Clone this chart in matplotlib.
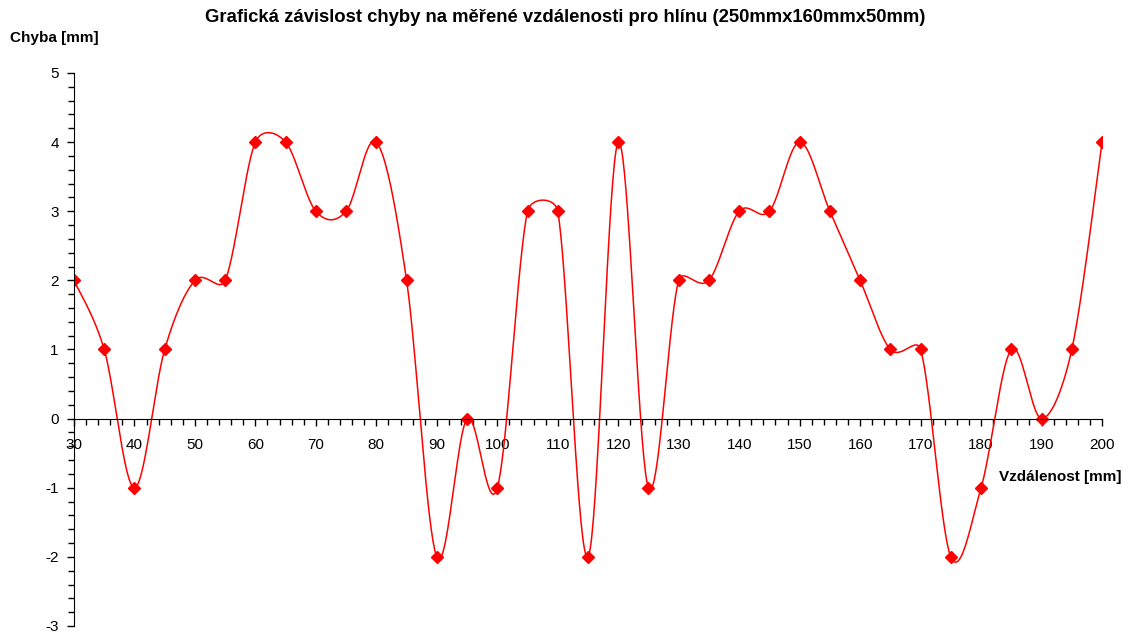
import numpy as np
import matplotlib.pyplot as plt
from matplotlib.ticker import MultipleLocator

plt.rcParams['font.family'] = ['Liberation Sans', 'DejaVu Sans']
plt.rcParams['axes.unicode_minus'] = False

# measured data
vzdalenost = [30, 35, 40, 45, 50, 55, 60, 65, 70, 75, 80, 85, 90, 95, 100, 105, 110, 115,
              120, 125, 130, 135, 140, 145, 150, 155, 160, 165, 170, 175, 180, 185, 190, 195, 200]
chyba = [2, 1, -1, 1, 2, 2, 4, 4, 3, 3, 4, 2, -2, 0, -1, 3, 3, -2,
         4, -1, 2, 2, 3, 3, 4, 3, 2, 1, 1, -2, -1, 1, 0, 1, 4]


def smooth(x, y, sx, sy, n=40):
    # Excel-like smoothed line (Bezier, tangent limited in screen space)
    p = np.column_stack([np.asarray(x, float) * sx, np.asarray(y, float) * sy])
    p = np.vstack([p[:1], p, p[-1:]])
    t = np.linspace(0, 1, n)[:, None]
    out = []
    for i in range(1, len(p) - 2):
        p0, p1, p2, p3 = p[i - 1], p[i], p[i + 1], p[i + 2]
        d12 = np.hypot(*(p2 - p1))
        d02 = np.hypot(*(p2 - p0))
        d13 = np.hypot(*(p3 - p1))
        f1 = min(1 / 6, d12 / (2 * d02)) if d02 > 0 else 0
        f2 = min(1 / 6, d12 / (2 * d13)) if d13 > 0 else 0
        c1 = p1 + f1 * (p2 - p0)
        c2 = p2 - f2 * (p3 - p1)
        b = (1 - t) ** 3 * p1 + 3 * (1 - t) ** 2 * t * c1 + 3 * (1 - t) * t ** 2 * c2 + t ** 3 * p2
        out.append(b)
    b = np.vstack(out)
    return b[:, 0] / sx, b[:, 1] / sy


fig = plt.figure(figsize=(11.31, 6.32), dpi=100)
ax = fig.add_axes([0.0654, 0.0095, 0.909, 0.875])

# pixel per unit, for screen-space smoothing
px_x = 1028 / 170
px_y = 553 / 8
sx, sy = smooth(vzdalenost, chyba, px_x, px_y)
ax.plot(sx, sy, color='red', lw=1.1)
ax.plot(vzdalenost, chyba, 'D', color='red', ms=6.5, lw=0)

ax.set_xlim(30, 200)
ax.set_ylim(-3, 5)

ax.spines['top'].set_visible(False)
ax.spines['right'].set_visible(False)
ax.spines['bottom'].set_position(('data', 0))
ax.spines['left'].set_position(('data', 30))

ax.xaxis.set_major_locator(MultipleLocator(10))
ax.xaxis.set_minor_locator(MultipleLocator(2))
ax.yaxis.set_major_locator(MultipleLocator(1))
ax.yaxis.set_minor_locator(MultipleLocator(0.2))
ax.tick_params(axis='both', which='major', direction='out', length=5, width=1, labelsize=11)
ax.tick_params(axis='x', which='major', pad=9)
ax.tick_params(axis='y', which='major', pad=6)
ax.tick_params(axis='both', which='minor', direction='out', length=4, width=1)

fig.text(0.5, 0.972, 'Grafická závislost chyby na měřené vzdálenosti pro hlínu (250mmx160mmx50mm)',
         ha='center', va='center', fontsize=13.3, fontweight='bold')
fig.text(0.009, 0.940, 'Chyba [mm]', ha='left', va='center', fontsize=11, fontweight='bold')
fig.text(0.992, 0.245, 'Vzdálenost [mm]', ha='right', va='center', fontsize=11, fontweight='bold')

fig.savefig('out.png', dpi=100)
